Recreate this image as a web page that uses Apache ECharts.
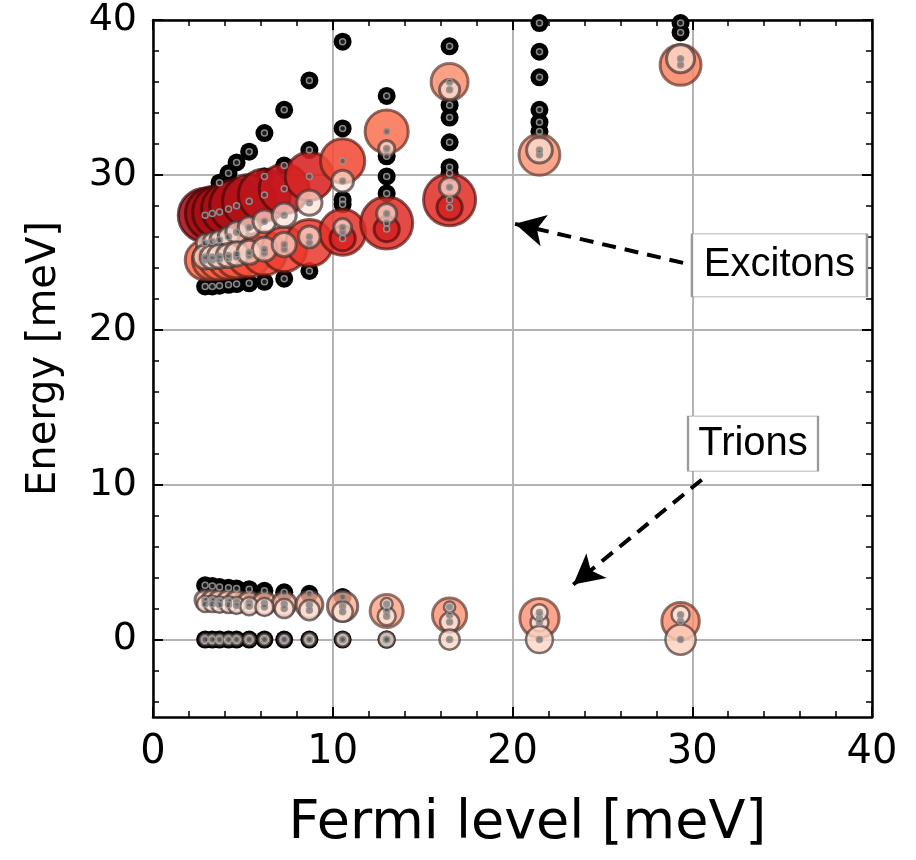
<!DOCTYPE html>
<html>
<head>
<meta charset="utf-8">
<script src="https://cdn.jsdelivr.net/npm/echarts@6/dist/echarts.min.js"></script>
<style>
html, body { margin: 0; padding: 0; background: #fff; }
#chart { width: 916px; height: 860px; }
</style>
</head>
<body>
<div id="chart"></div>
<script>
// Fermi levels (meV) at which the spectrum is evaluated
const fermiLevels = [2.9, 3.3, 3.7, 4.2, 4.65, 5.35, 6.2, 7.3, 8.7, 10.55, 13.0, 16.5, 21.5, 29.35];

// Dark states (meV), one list per Fermi level
const darkEnergies = [
  [22.8, 3.5, 0],
  [22.8, 3.45, 0],
  [22.85, 29.5, 3.4, 0],
  [22.9, 30.1, 3.35, 0],
  [22.95, 30.8, 3.3, 0],
  [23.0, 31.5, 3.25, 0],
  [23.1, 32.7, 29.9, 3.15, 0],
  [23.3, 34.2, 30.6, 3.05, 0],
  [23.8, 36.1, 31.6, 2.95, 0],
  [38.6, 33.0, 28.4, 28.1, 2.75, 0],
  [35.1, 31.2, 29.9, 28.8, 0],
  [38.3, 34.5, 33.7, 32.1, 30.5, 30.1],
  [39.8, 37.95, 36.3, 34.2, 33.4, 32.8],
  [39.8, 39.2]
];

// Bright branches: energy (meV), relative oscillator strength, colour strength (0..1), fill alpha
const upperExcitonEnergy = [27.4, 27.5, 27.6, 27.8, 28.0, 28.3, 28.7, 29.1, 29.9, 30.9, 32.8, 36.0, null, null];
const upperExcitonWeight = [0.96, 0.96, 0.96, 0.96, 0.96, 0.95, 0.93, 0.89, 0.86, 0.79, 0.77, 0.66, null, null];
const upperExcitonShade  = [0.88, 0.88, 0.87, 0.86, 0.85, 0.83, 0.80, 0.77, 0.71, 0.58, 0.47, 0.37, null, null];

const lowerExcitonEnergy = [24.5, 24.5, 24.55, 24.6, 24.7, 24.8, 24.95, 25.2, 25.6, 26.3, 26.9, 28.4, 31.3, 37.1];
const lowerExcitonWeight = [0.71, 0.71, 0.73, 0.73, 0.75, 0.77, 0.79, 0.80, 0.84, 0.82, 0.93, 0.93, 0.73, 0.73];
const lowerExcitonShade  = [0.50, 0.50, 0.52, 0.53, 0.55, 0.57, 0.60, 0.62, 0.64, 0.66, 0.68, 0.68, 0.36, 0.42];

const coreExcitonEnergy = [null, null, null, null, null, null, null, null, null, 25.9, 26.5, 27.9, null, null];
const coreExcitonWeight = [null, null, null, null, null, null, null, null, null, 0.45, 0.45, 0.45, null, null];
const coreExcitonShade  = [null, null, null, null, null, null, null, null, null, 0.72, 0.72, 0.72, null, null];

const midExcitonEnergy = [25.6, 25.7, 25.8, 26.0, 26.3, 26.6, 27.0, 27.4, 28.2, 29.6, 31.7, 35.5, null, null];
const midExcitonWeight = [0.32, 0.32, 0.34, 0.36, 0.38, 0.39, 0.41, 0.43, 0.45, 0.39, 0.29, 0.36, null, null];
const midExcitonShade  = [0.12, 0.12, 0.12, 0.12, 0.12, 0.12, 0.12, 0.12, 0.12, 0.12, 0.12, 0.12, null, null];

const paleExcitonEnergy = [24.7, 24.7, 24.75, 24.8, 24.9, 25.0, 25.2, 25.5, 26.0, 26.6, 27.5, 29.2, 31.6, 37.5];
const paleExcitonWeight = [0.43, 0.43, 0.43, 0.43, 0.43, 0.43, 0.43, 0.43, 0.39, 0.32, 0.36, 0.36, 0.46, 0.50];
const paleExcitonShade  = [0.14, 0.14, 0.14, 0.14, 0.14, 0.14, 0.14, 0.14, 0.12, 0.12, 0.12, 0.12, 0.12, 0.12];

const trionEnergy = [2.55, 2.55, 2.5, 2.5, 2.45, 2.4, 2.35, 2.3, 2.25, 2.15, 1.85, 1.58, 1.39, 1.18];
const trionWeight = [0.36, 0.36, 0.38, 0.38, 0.39, 0.39, 0.41, 0.43, 0.48, 0.54, 0.59, 0.61, 0.70, 0.67];
const trionShade  = [0.22, 0.22, 0.22, 0.22, 0.24, 0.25, 0.27, 0.28, 0.30, 0.30, 0.33, 0.38, 0.38, 0.40];

const trionPaleEnergy = [2.3, 2.3, 2.25, 2.25, 2.2, 2.15, 2.1, 2.0, 1.9, 1.8, 1.5, 1.13, 1.1, null];
const trionPaleWeight = [0.29, 0.29, 0.29, 0.30, 0.30, 0.32, 0.32, 0.34, 0.36, 0.36, 0.32, 0.34, 0.32, null];
const trionPaleShade  = [0.10, 0.10, 0.10, 0.10, 0.10, 0.10, 0.10, 0.10, 0.10, 0.10, 0.10, 0.10, 0.10, null];

const trionUpperEnergy = [null, null, null, null, null, null, null, null, null, null, 2.3, 2.1, 1.75, 1.6];
const trionUpperWeight = [null, null, null, null, null, null, null, null, null, null, 0.21, 0.20, 0.29, 0.32];
const trionUpperShade  = [null, null, null, null, null, null, null, null, null, null, 0.05, 0.05, 0.05, 0.05];

const groundEnergy = [0, 0, 0, 0, 0, 0, 0, 0, 0, 0, 0, 0, 0, 0];
const groundWeight = [0.20, 0.20, 0.20, 0.20, 0.20, 0.21, 0.21, 0.21, 0.23, 0.25, 0.29, 0.36, 0.48, 0.54];
const groundShade  = [0.05, 0.05, 0.05, 0.05, 0.05, 0.05, 0.05, 0.05, 0.05, 0.05, 0.05, 0.16, 0.16, 0.18];

// Axis ticks
const yTicks = [0, 10, 20, 30, 40];
const yMinorTicks = [-4, -2, 2, 4, 6, 8, 12, 14, 16, 18, 22, 24, 26, 28, 32, 34, 36, 38];

// Annotation anchors (data units)
const excitonLabelAt = [34.85, 24.16];
const excitonArrow = [[29.49, 24.32], [20.14, 26.84]];
const trionLabelAt = [33.38, 12.65];
const trionArrow = [[30.53, 10.32], [23.38, 3.55]];

// Reds colour scale
const redsStops = ['#fff5f0', '#fee0d2', '#fcbba1', '#fc9272', '#fb6a4a', '#ef3b2c', '#cb181d', '#a50f15', '#67000d'];
function hexRgb(h) { return [parseInt(h.slice(1, 3), 16), parseInt(h.slice(3, 5), 16), parseInt(h.slice(5, 7), 16)]; }
function redsRgb(t) {
  t = Math.max(0, Math.min(1, t));
  const p = t * (redsStops.length - 1);
  const i = Math.min(Math.floor(p), redsStops.length - 2);
  const f = p - i;
  const a = hexRgb(redsStops[i]), b = hexRgb(redsStops[i + 1]);
  return a.map((v, k) => Math.round(v + (b[k] - v) * f));
}
function rgba(c, a) { return 'rgba(' + c[0] + ',' + c[1] + ',' + c[2] + ',' + a + ')'; }

const MAX_DIAMETER = 56;

function brightSeries(name, energy, weight, shade, edge, alpha) {
  const data = [];
  energy.forEach((e, i) => {
    if (e === null) return;
    const c = redsRgb(shade[i]);
    const dark = shade[i] > 0.3
      ? rgba(c.map(v => Math.round(v * 0.4)), 0.7)
      : 'rgba(70,55,55,0.7)';
    data.push({
      value: [fermiLevels[i], e],
      symbolSize: MAX_DIAMETER * weight[i],
      itemStyle: { color: rgba(c, alpha), borderColor: dark, borderWidth: edge, opacity: 1 }
    });
  });
  return { type: 'scatter', name, data, symbol: 'circle', silent: true, animation: false, z: 3,
           itemStyle: { opacity: 1 } };
}

const darkData = [];
darkEnergies.forEach((list, i) => list.forEach(e => darkData.push([fermiLevels[i], e])));

const brightBranches = [
  ['upper', upperExcitonEnergy, upperExcitonWeight, upperExcitonShade, 3, 0.88],
  ['lower', lowerExcitonEnergy, lowerExcitonWeight, lowerExcitonShade, 3, 0.85],
  ['core', coreExcitonEnergy, coreExcitonWeight, coreExcitonShade, 3, 0.85],
  ['mid', midExcitonEnergy, midExcitonWeight, midExcitonShade, 3, 0.7],
  ['pale', paleExcitonEnergy, paleExcitonWeight, paleExcitonShade, 3, 0.7],
  ['trion', trionEnergy, trionWeight, trionShade, 3, 0.8],
  ['trionPale', trionPaleEnergy, trionPaleWeight, trionPaleShade, 2.5, 0.8],
  ['trionUpper', trionUpperEnergy, trionUpperWeight, trionUpperShade, 2.5, 0.8],
  ['ground', groundEnergy, groundWeight, groundShade, 2.5, 0.8]
];

const centerData = darkData.slice();
brightBranches.forEach(b => b[1].forEach((e, i) => { if (e !== null) centerData.push([fermiLevels[i], e]); }));

const fontAxis = 'DejaVu Sans';

function yAxisBase(position, ticks, length, major) {
  return {
    type: 'value', min: -5, max: 40, splitNumber: 4, position,
    axisLine: { show: major, onZero: false, lineStyle: { color: '#000', width: 2.5 } },
    axisTick: { show: true, inside: true, length, customValues: ticks, lineStyle: { color: '#000', width: major ? 2 : 1.5 } },
    axisLabel: { show: false },
    splitLine: { show: false }
  };
}

const yLeft = yAxisBase('left', yTicks, 10, true);
yLeft.axisLabel = { show: true, customValues: yTicks, fontSize: 38, color: '#000', fontFamily: fontAxis, margin: 16 };
yLeft.splitLine = { show: true, lineStyle: { color: '#b3b3b3', width: 2 } };
yLeft.name = 'Energy [meV]';
yLeft.nameLocation = 'middle';
yLeft.nameGap = 88;
yLeft.nameTextStyle = { fontSize: 40, color: '#000', fontFamily: fontAxis, padding: [0, 0, 0, 20] };

function xAxisBase(position, labels) {
  return {
    type: 'value', min: 0, max: 40, interval: 10, position,
    axisLine: { show: true, onZero: false, lineStyle: { color: '#000', width: 2.5 } },
    axisTick: { show: true, inside: true, length: 10, lineStyle: { color: '#000', width: 2 } },
    minorTick: { show: true, splitNumber: 5, length: 6, lineStyle: { color: '#000', width: 1.5 } },
    axisLabel: labels ? { show: true, fontSize: 40, color: '#000', fontFamily: fontAxis, margin: 16, showMinLabel: true, showMaxLabel: true } : { show: false },
    splitLine: { show: labels, lineStyle: { color: '#b3b3b3', width: 2 } }
  };
}
const xBottom = xAxisBase('bottom', true);
xBottom.name = 'Fermi level [meV]';
xBottom.nameLocation = 'middle';
xBottom.nameGap = 80;
xBottom.nameTextStyle = { fontSize: 54, color: '#000', fontFamily: fontAxis, verticalAlign: 'top', padding: [0, 0, 0, 30] };

const chart = echarts.init(document.getElementById('chart'), null, { renderer: 'canvas' });
chart.setOption({
  backgroundColor: '#fff',
  animation: false,
  grid: { left: 153, right: 44, top: 20, bottom: 143, containLabel: false },
  xAxis: [xBottom, xAxisBase('top', false)],
  yAxis: [
    yLeft,
    yAxisBase('left', yMinorTicks, 6, false),
    yAxisBase('right', yTicks, 10, true),
    yAxisBase('right', yMinorTicks, 6, false)
  ],
  series: [
    {
      type: 'scatter', name: 'dark', data: darkData, symbol: 'circle', symbolSize: 18,
      itemStyle: { color: '#000', opacity: 1 }, silent: true, animation: false, z: 2,
      markPoint: {
        silent: true, animation: false, symbol: 'rect',
        itemStyle: { color: '#fff', borderColor: '#9a9a9a', borderWidth: 1.5, opacity: 1 },
        label: { show: true, position: 'inside', color: '#000', fontSize: 40, fontFamily: 'Liberation Sans' },
        data: [
          { coord: excitonLabelAt, symbolSize: [175, 63], label: { formatter: 'Excitons' } },
          { coord: trionLabelAt, symbolSize: [130, 55], label: { formatter: 'Trions' } }
        ]
      },
      markLine: {
        silent: true, animation: false, symbol: ['none', 'arrow'], symbolSize: [24, 30],
        label: { show: false },
        lineStyle: { color: '#000', width: 4, type: [14, 9], opacity: 1 },
        data: [
          [{ coord: excitonArrow[0] }, { coord: excitonArrow[1] }],
          [{ coord: trionArrow[0] }, { coord: trionArrow[1] }]
        ]
      }
    },
    ...brightBranches.map(b => brightSeries(b[0], b[1], b[2], b[3], b[4], b[5])),
    {
      type: 'scatter', name: 'centers', data: centerData, symbol: 'circle', symbolSize: 6,
      itemStyle: { color: 'rgba(60,60,60,0.5)', borderColor: 'rgba(150,150,150,0.9)', borderWidth: 1.5, opacity: 1 },
      silent: true, animation: false, z: 4
    }
  ]
});
</script>
</body>
</html>
